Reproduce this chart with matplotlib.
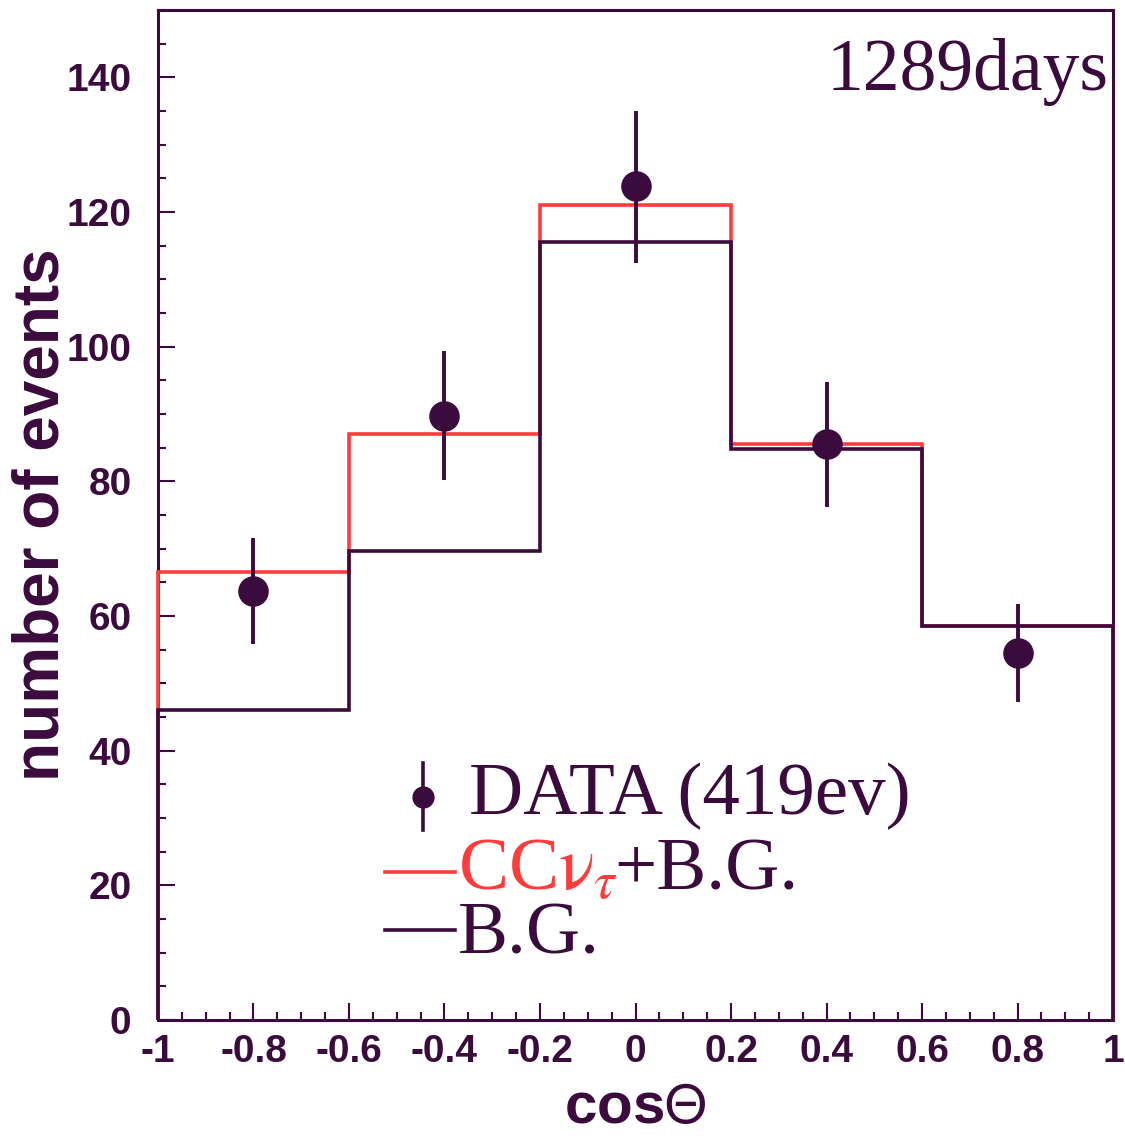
import matplotlib
matplotlib.use("Agg")
import matplotlib.pyplot as plt
import numpy as np
from matplotlib.lines import Line2D
from matplotlib.ticker import MultipleLocator

plt.rcParams["mathtext.fontset"] = "stix"

# Histogram bins in cos(theta)
bin_edges = [-1.0, -0.6, -0.2, 0.2, 0.6, 1.0]
signal_plus_bg = [66.5, 87.0, 121.0, 85.5, 58.5]
background = [46.0, 69.7, 115.5, 84.8, 58.5]

# Data points with errors
data_x = [-0.8, -0.4, 0.0, 0.4, 0.8]
data_y = [63.7, 89.7, 123.8, 85.5, 54.5]
data_lo = [55.8, 80.2, 112.4, 76.2, 47.2]
data_hi = [71.6, 99.3, 135.0, 94.8, 61.8]

DARK = "#3b0b3e"
RED = "#ff3b3b"

fig = plt.figure(figsize=(11.25, 11.42), dpi=100)
fig.patch.set_facecolor("white")
ax = fig.add_axes([0.1404, 0.1068, 0.849, 0.8844])

ax.stairs(signal_plus_bg, bin_edges, baseline=0, color=RED, lw=2.6,
          zorder=3, clip_on=False)
ax.stairs(background, bin_edges, baseline=0, color=DARK, lw=2.6,
          zorder=3.1, clip_on=False)

yerr = [np.array(data_y) - np.array(data_lo), np.array(data_hi) - np.array(data_y)]
ax.errorbar(data_x, data_y, yerr=yerr, fmt="o", color=DARK, ms=21,
            elinewidth=2.8, capsize=0, zorder=4)

ax.set_xlim(-1, 1)
ax.set_ylim(0, 150)
ax.xaxis.set_major_locator(MultipleLocator(0.2))
ax.xaxis.set_minor_locator(MultipleLocator(0.05))
ax.yaxis.set_major_locator(MultipleLocator(20))
ax.yaxis.set_minor_locator(MultipleLocator(5))
ax.tick_params(which="both", direction="in", color=DARK, width=1.5,
               top=False, right=False)
ax.tick_params(which="major", length=12, labelsize=28, labelcolor=DARK)
ax.tick_params(axis="y", which="major", pad=19)
ax.tick_params(axis="x", which="major", pad=10)
ax.tick_params(which="minor", length=6)
for spine in ax.spines.values():
    spine.set_color(DARK)
    spine.set_linewidth(2.2)

ax.set_xticks([-1, -0.8, -0.6, -0.4, -0.2, 0, 0.2, 0.4, 0.6, 0.8, 1])
ax.set_xticklabels(["-1", "-0.8", "-0.6", "-0.4", "-0.2", "0", "0.2", "0.4",
                    "0.6", "0.8", "1"])
for lab in ax.get_xticklabels() + ax.get_yticklabels():
    lab.set_fontfamily("Liberation Sans")
    lab.set_fontweight("bold")

ax.set_ylabel("number of events", fontsize=46, fontweight="bold", color=DARK,
              family="Liberation Sans")
ax.yaxis.set_label_coords(-0.09, 0.5)
ax.set_xlabel(r"cos$\mathsf{\Theta}$", fontsize=42, fontweight="bold", color=DARK,
              family="Liberation Sans", labelpad=8)

ax.text(0.995, 0.972, "1289days", transform=ax.transAxes, ha="right", va="top",
        fontsize=53, family="Liberation Serif", color=DARK)

# Legend drawn by hand
tr = ax.transAxes
ax.add_line(Line2D([0.277, 0.277], [0.188, 0.254], transform=tr, color=DARK,
                   lw=2.6))
ax.add_line(Line2D([0.277], [0.221], transform=tr, marker="o", ms=15,
                   color=DARK))
ax.text(0.326, 0.221, "DATA (419ev)", transform=tr, va="center",
        fontsize=54, family="Liberation Serif", color=DARK)
ax.add_line(Line2D([0.238, 0.311], [0.1465, 0.1465], transform=tr, color=RED,
                   lw=2.6))
ax.text(0.314, 0.1465, r"CC$\mathrm{\nu}_{\tau}$", transform=tr, va="center",
        fontsize=54, family="Liberation Serif", color=RED)
ax.text(0.478, 0.1465, "+B.G.", transform=tr, va="center",
        fontsize=54, family="Liberation Serif", color=DARK)
ax.add_line(Line2D([0.238, 0.311], [0.089, 0.089], transform=tr, color=DARK,
                   lw=2.6))
ax.text(0.314, 0.083, "B.G.", transform=tr, va="center",
        fontsize=54, family="Liberation Serif", color=DARK)

fig.savefig("out.png", dpi=100)
